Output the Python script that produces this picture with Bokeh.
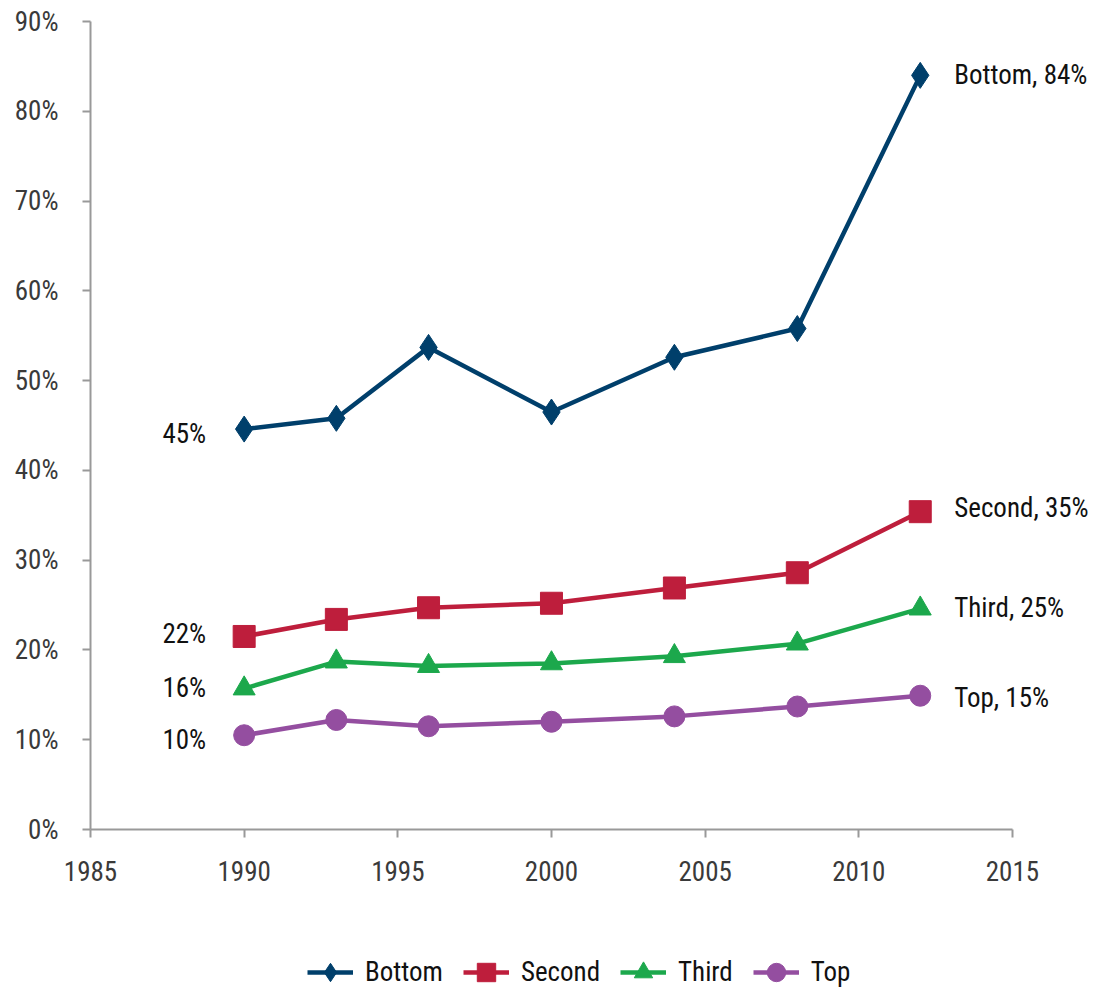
from bokeh.plotting import figure
from bokeh.layouts import column
from bokeh.models import (Range1d, FixedTicker, PrintfTickFormatter, Legend, LegendItem,
                          ColumnDataSource, LabelSet)
from bokeh.core.properties import value
from bokeh.embed import file_html
from bokeh.resources import INLINE

FONT = "Roboto Condensed"

years = [1990, 1993, 1996, 2000, 2004, 2008, 2012]
bottom = [44.6, 45.8, 53.7, 46.5, 52.6, 55.8, 84.0]
second = [21.5, 23.4, 24.7, 25.2, 26.9, 28.6, 35.4]
third = [15.7, 18.7, 18.2, 18.5, 19.3, 20.7, 24.6]
top = [10.5, 12.2, 11.5, 12.0, 12.6, 13.7, 14.9]

series_names = ["Bottom", "Second", "Third", "Top"]
series_values = [bottom, second, third, top]
colors = ["#003f6b", "#be1e3c", "#1ca84c", "#944ea0"]
markers = ["diamond", "square", "triangle", "circle"]
marker_sizes = [26, 22, 22, 21]
start_labels = ["45%", "22%", "16%", "10%"]
end_labels = ["Bottom, 84%", "Second, 35%", "Third, 25%", "Top, 15%"]
start_label_dy = [-5, 2, 1, -5]
end_label_dy = [0, 4, 1, -2]

x_ticks = [1985, 1990, 1995, 2000, 2005, 2010, 2015]
y_ticks = [0, 10, 20, 30, 40, 50, 60, 70, 80, 90]

W = 1090
p = figure(width=W, height=887, output_backend="svg", toolbar_location=None,
           x_range=Range1d(1985, 2017.54), y_range=Range1d(0, 90),
           min_border_left=90, min_border_right=0, min_border_top=21, min_border_bottom=58)
p.outline_line_color = None
p.xgrid.grid_line_color = None
p.ygrid.grid_line_color = None
p.background_fill_color = "white"
p.border_fill_color = "white"

for ax in (p.xaxis[0], p.yaxis[0]):
    ax.axis_line_color = "#999999"
    ax.axis_line_width = 2
    ax.major_tick_line_color = "#999999"
    ax.major_tick_line_width = 2
    ax.major_tick_out = 8
    ax.major_tick_in = 0
    ax.minor_tick_line_color = None
    ax.major_label_text_font = FONT
    ax.major_label_text_font_size = "27px"
    ax.major_label_text_color = "#3a3a3a"

p.xaxis.ticker = FixedTicker(ticks=x_ticks)
p.yaxis.ticker = FixedTicker(ticks=y_ticks)
p.xaxis.bounds = (1985, 2015)
p.yaxis.bounds = (0, 90)
p.yaxis.formatter = PrintfTickFormatter(format="%d%%")
p.xaxis.major_label_standoff = 23
p.yaxis.major_label_standoff = 24

p2 = figure(width=W, height=101, output_backend="svg", toolbar_location=None,
            x_range=Range1d(0, 1), y_range=Range1d(0, 1), min_border=0,
            x_axis_location=None, y_axis_location=None)
p2.xgrid.grid_line_color = None
p2.ygrid.grid_line_color = None
p2.outline_line_color = None

items = []
for name, vals, c, m, ms in zip(series_names, series_values, colors, markers, marker_sizes):
    src = ColumnDataSource(dict(x=years, y=vals))
    p.line("x", "y", source=src, line_color=c, line_width=4.5)
    p.scatter("x", "y", source=src, marker=m, size=ms, fill_color=c, line_color=c)
    # legend-only renderers (their data lie outside this strip's ranges)
    ln = p2.line("x", "y", source=src, line_color=c, line_width=4.5)
    sc = p2.scatter("x", "y", source=src, marker=m, size=ms, fill_color=c, line_color=c)
    items.append(LegendItem(label=name, renderers=[ln, sc]))

start_src = ColumnDataSource(dict(x=[years[0]] * 4, y=[v[0] for v in series_values],
                                  t=start_labels, dy=start_label_dy))
end_src = ColumnDataSource(dict(x=[years[-1]] * 4, y=[v[-1] for v in series_values],
                                t=end_labels, dy=end_label_dy))
p.add_layout(LabelSet(x="x", y="y", text="t", source=start_src, x_offset=-38, y_offset="dy",
                      text_align="right", text_baseline="middle", text_font=value(FONT),
                      text_font_size="27px", text_color="#111111"))
p.add_layout(LabelSet(x="x", y="y", text="t", source=end_src, x_offset=34, y_offset="dy",
                      text_align="left", text_baseline="middle", text_font=value(FONT),
                      text_font_size="27px", text_color="#111111"))

legend = Legend(items=items, orientation="horizontal", location=(217, -7),
                label_text_font=FONT, label_text_font_size="27px", label_text_color="#111111",
                glyph_width=46, glyph_height=46, label_standoff=12, spacing=20,
                border_line_color=None, background_fill_alpha=0, margin=0, padding=0)
p2.add_layout(legend, "center")

open("out.html", "w").write(file_html(column(p, p2), INLINE))
